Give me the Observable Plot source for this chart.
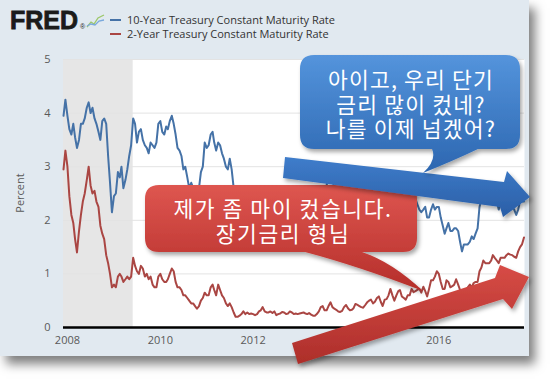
<!DOCTYPE html>
<html>
<head>
<meta charset="utf-8">
<script src="https://cdn.jsdelivr.net/npm/d3@7"></script>
<script src="https://cdn.jsdelivr.net/npm/@observablehq/plot@0.6"></script>
<style>
  html, body { margin: 0; padding: 0; background: #fff; }
  #wrap { position: relative; width: 560px; height: 379px; overflow: hidden; background: #fff; }
  #panel { position: absolute; left: 0; top: 0; width: 529px; height: 356px; background: #e1e9f0;
           box-shadow: 6px 8px 10px rgba(0,0,0,0.5); }
</style>
</head>
<body>
<div id="wrap"><div id="panel"></div></div>
<script>
// ---- data (semi-monthly readings: 1st and 16th of each month, Dec 2007 – Nov 2017) ----
const startMonth = "2007-12-01";
const tenYear = [
  3.95,4.25,
  3.95,3.70, 3.60,3.80, 3.55,3.35, 3.50,3.80, 3.80,3.90, 4.10,4.20, 4.00,4.10, 3.90,3.80, 3.65,3.50, 3.85,3.90, 3.80,3.20, 2.70,2.15,
  2.45,2.50, 2.90,2.80, 3.00,2.60, 2.75,2.95, 3.20,3.40, 3.90,3.80, 3.45,3.65, 3.70,3.50, 3.40,3.35, 3.25,3.45, 3.40,3.35, 3.45,3.80,
  3.85,3.65, 3.60,3.75, 3.70,3.85, 3.95,3.80, 3.60,3.35, 3.30,3.20, 2.95,3.00, 2.80,2.60, 2.70,2.60, 2.50,2.45, 2.60,2.90, 3.00,3.45,
  3.35,3.40, 3.60,3.65, 3.45,3.30, 3.45,3.40, 3.25,3.15, 3.00,2.95, 3.15,2.95, 2.60,2.20, 2.00,1.90, 1.80,2.20, 2.05,2.00, 2.00,1.90,
  1.95,1.95, 1.95,2.00, 2.05,2.30, 2.15,1.95, 1.90,1.75, 1.55,1.65, 1.55,1.45, 1.60,1.80, 1.65,1.85, 1.70,1.80, 1.70,1.60, 1.65,1.75,
  1.90,1.85, 2.00,1.95, 1.95,2.00, 1.80,1.70, 1.70,1.95, 2.15,2.45, 2.55,2.55, 2.65,2.85, 2.95,2.75, 2.60,2.60, 2.60,2.75, 2.80,2.95,
  2.95,2.80, 2.70,2.75, 2.70,2.75, 2.75,2.65, 2.60,2.50, 2.60,2.60, 2.60,2.50, 2.45,2.35, 2.45,2.60, 2.40,2.15, 2.35,2.30, 2.25,2.15,
  2.05,1.80, 1.75,2.10, 2.05,2.05, 1.90,1.90, 2.10,2.25, 2.35,2.35, 2.40,2.30, 2.20,2.15, 2.20,2.25, 2.05,2.05, 2.20,2.30, 2.20,2.25,
  2.25,2.05, 1.90,1.75, 1.85,1.95, 1.80,1.80, 1.85,1.85, 1.80,1.60, 1.42,1.55, 1.55,1.55, 1.60,1.70, 1.65,1.75, 1.85,2.25, 2.40,2.55,
  2.45,2.40, 2.45,2.45, 2.50,2.55, 2.35,2.20, 2.30,2.25, 2.20,2.15, 2.30,2.30, 2.25,2.20, 2.10,2.20, 2.35,2.35, 2.35
];
const twoYear = [
  2.95,3.30,
  3.00,2.45, 2.10,1.95, 1.65,1.40, 1.80,2.10, 2.35,2.50, 2.75,3.00, 2.65,2.50, 2.55,2.35, 2.25,1.90, 1.75,1.65, 1.35,1.20, 1.00,0.75,
  0.80,0.75, 0.95,1.00, 0.95,0.85, 0.90,0.95, 0.90,0.95, 1.30,1.15, 1.05,1.00, 1.15,1.10, 0.95,1.00, 0.90,0.95, 0.80,0.75, 0.75,0.95,
  1.00,0.90, 0.85,0.85, 0.90,1.00, 1.10,1.05, 0.85,0.75, 0.75,0.70, 0.60,0.60, 0.55,0.50, 0.45,0.45, 0.40,0.35, 0.40,0.50, 0.55,0.65,
  0.60,0.60, 0.75,0.80, 0.70,0.60, 0.80,0.70, 0.60,0.55, 0.45,0.40, 0.45,0.38, 0.28,0.20, 0.20,0.22, 0.25,0.30, 0.25,0.28, 0.25,0.26,
  0.25,0.23, 0.25,0.30, 0.32,0.38, 0.30,0.28, 0.28,0.30, 0.27,0.30, 0.23,0.25, 0.26,0.29, 0.28,0.25, 0.26,0.30, 0.28,0.25, 0.26,0.25,
  0.26,0.27, 0.28,0.26, 0.25,0.27, 0.24,0.22, 0.22,0.25, 0.30,0.38, 0.40,0.32, 0.32,0.40, 0.47,0.38, 0.35,0.33, 0.30,0.29, 0.31,0.38,
  0.42,0.36, 0.32,0.33, 0.36,0.44, 0.42,0.40, 0.38,0.37, 0.42,0.47, 0.50,0.52, 0.45,0.48, 0.55,0.58, 0.48,0.40, 0.52,0.53, 0.60,0.72,
  0.60,0.50, 0.60,0.68, 0.70,0.58, 0.55,0.52, 0.60,0.60, 0.72,0.66, 0.68,0.70, 0.72,0.65, 0.76,0.68, 0.58,0.72, 0.88,0.88, 0.95,1.05,
  1.00,0.85, 0.72,0.72, 0.88,0.85, 0.75,0.77, 0.80,0.90, 0.80,0.70, 0.58,0.70, 0.70,0.75, 0.80,0.75, 0.83,0.85, 0.85,1.05, 1.12,1.25,
  1.20,1.20, 1.20,1.25, 1.35,1.30, 1.25,1.20, 1.30,1.30, 1.30,1.35, 1.38,1.36, 1.35,1.32, 1.30,1.42, 1.50,1.55, 1.68
];
const recessions = [{start: "2007-12-01", end: "2009-06-01"}];
const xTickYears = ["2008", "2010", "2012", "2014", "2016"];
const yTicks = [0, 1, 2, 3, 4, 5];
const yLabel = "Percent";
const seriesNames = ["10-Year Treasury Constant Maturity Rate", "2-Year Treasury Constant Maturity Rate"];
const seriesColors = ["#4572a7", "#aa4643"];
const blueNote = ["아이고, 우리 단기", "금리 많이 컸네?", "나를 이제 넘겠어?"];
const redNote = ["제가 좀 마이 컸습니다.", "장기금리 형님"];

// ---- build tables ----
const start = new Date(startMonth);
function dateAt(i) {
  const m = d3.utcMonth.offset(start, Math.floor(i / 2));
  return i % 2 ? d3.utcDay.offset(m, 15) : m;
}
const ten = tenYear.map((v, i) => ({date: dateAt(i), value: v}));
const two = twoYear.map((v, i) => ({date: dateAt(i), value: v}));
const rec = recessions.map(d => ({start: new Date(d.start), end: new Date(d.end)}));

const svg = Plot.plot({
  width: 560,
  height: 379,
  marginLeft: 63,
  marginRight: 36,
  marginTop: 59,
  marginBottom: 52,
  style: {background: "transparent", overflow: "visible", position: "absolute", left: "0px", top: "0px",
          fontFamily: "'Open Sans', sans-serif", fontSize: "11px", color: "#595959"},
  x: {type: "utc", domain: [new Date("2007-12-01"), new Date("2017-11-05")],
      ticks: xTickYears.map(y => new Date(y + "-01-01")), tickFormat: d3.utcFormat("%Y"),
      tickSize: 0, tickPadding: 9, label: null},
  y: {domain: [0, 5], ticks: yTicks, tickFormat: d3.format("d"), tickSize: 0, tickPadding: 13, label: null},
  marks: [
    Plot.frame({fill: "white"}),
    Plot.rect(rec, {x1: "start", x2: "end", fill: "#e6e6e6"}),
    Plot.ruleY(yTicks.filter(d => d > 0), {stroke: "#e3e3e3", strokeWidth: 1}),
    Plot.line(ten, {x: "date", y: "value", stroke: seriesColors[0], strokeWidth: 2}),
    Plot.line(two, {x: "date", y: "value", stroke: seriesColors[1], strokeWidth: 2}),
    Plot.ruleY([0], {stroke: "#000", strokeWidth: 2.5})
  ]
});
document.getElementById("wrap").appendChild(svg);

// ---- header + annotations overlay ----
const ov = d3.select(svg).append("g").attr("text-anchor", "start");
const defs = ov.append("defs");
function grad(id, c1, c2) {
  const g = defs.append("linearGradient").attr("id", id).attr("x1", 0).attr("y1", 0).attr("x2", 0).attr("y2", 1);
  g.append("stop").attr("offset", "0%").attr("stop-color", c1);
  g.append("stop").attr("offset", "100%").attr("stop-color", c2);
}
grad("gBlueBox", "#5494dc", "#2c66b0");
grad("gRedBox", "#de5650", "#b52e2a");
grad("gBlueArr", "#3f7dcb", "#2a5ea6");
grad("gRedArr", "#d74c46", "#ad2e2a");
const flt = defs.append("filter").attr("id", "shd").attr("x", "-10%").attr("y", "-10%").attr("width", "130%").attr("height", "140%");
flt.append("feDropShadow").attr("dx", 2).attr("dy", 3).attr("stdDeviation", 2).attr("flood-color", "#000").attr("flood-opacity", 0.35);

// y axis title
ov.append("text").attr("transform", "translate(24,193) rotate(-90)").attr("text-anchor", "middle")
  .attr("font-family", "'Open Sans', sans-serif").attr("font-size", 11).attr("fill", "#595959").text(yLabel);

// header
const hdr = ov.append("g").attr("text-anchor", "start");
hdr.append("text").attr("x", 10).attr("y", 28.5).attr("font-family", "'Liberation Sans', Arial, sans-serif")
  .attr("font-weight", "bold").attr("font-size", 25).attr("fill", "#1b1b1b")
  .attr("stroke", "#1b1b1b").attr("stroke-width", 0.8).text("FRED");
hdr.append("text").attr("x", 80).attr("y", 28.5).attr("font-family", "'Liberation Sans', Arial, sans-serif")
  .attr("font-size", 7).attr("fill", "#1b1b1b").text("®");
hdr.append("polyline").attr("points", "87,27 91,22 94,24 98,18 104,15").attr("fill", "none").attr("stroke", "#9cc76a").attr("stroke-width", 1.3);
hdr.append("polyline").attr("points", "87,26 91,24 95,25 99,21 104,20").attr("fill", "none").attr("stroke", "#7aa9dc").attr("stroke-width", 1.3);
seriesNames.forEach((name, i) => {
  const cy = 20 + i * 14;
  hdr.append("line").attr("x1", 110).attr("x2", 121).attr("y1", cy).attr("y2", cy).attr("stroke", seriesColors[i]).attr("stroke-width", 2);
  hdr.append("text").attr("x", 127).attr("y", cy + 4).attr("font-family", "'Open Sans', sans-serif")
    .attr("font-size", 11).attr("fill", "#333").text(name);
});

function callout(x0, y0, x1, y1, r, ta, tb, tx, ty, c1x, c1y, c2x, c2y) {
  return `M${x0 + r},${y0}H${x1 - r}Q${x1},${y0} ${x1},${y0 + r}V${y1 - r}Q${x1},${y1} ${x1 - r},${y1}` +
         `H${tb}Q${c1x},${c1y} ${tx},${ty}Q${c2x},${c2y} ${ta},${y1}` +
         `H${x0 + r}Q${x0},${y1} ${x0},${y1 - r}V${y0 + r}Q${x0},${y0} ${x0 + r},${y0}Z`;
}
const kfont = "'Noto Sans CJK KR', sans-serif";

// red callout
ov.append("path").attr("d", callout(145, 185, 417, 252, 14, 305, 362, 423, 291, 392, 262, 358, 266))
  .attr("fill", "url(#gRedBox)").attr("filter", "url(#shd)");
redNote.forEach((t, i) => {
  ov.append("text").attr("x", 283).attr("y", 207 + i * 25).attr("text-anchor", "middle").attr("dominant-baseline", "central")
    .attr("font-family", kfont).attr("font-size", 21.5).attr("letter-spacing", "1.6px").attr("fill", "#fff").text(t);
});

// red arrow
ov.append("polygon").attr("points", "292,343 495,278 500,265 529,277 512,309 503,299 298,364")
  .attr("fill", "url(#gRedArr)").attr("filter", "url(#shd)");

// blue arrow
ov.append("polygon").attr("points", "285,157 504,182 507,171 530,197 503,217 500,207 283,178")
  .attr("fill", "url(#gBlueArr)").attr("filter", "url(#shd)");

// blue callout
ov.append("path").attr("d", callout(300, 55, 520, 149, 14, 432, 478, 423, 173, 455, 160, 437, 160))
  .attr("fill", "url(#gBlueBox)").attr("filter", "url(#shd)");
blueNote.forEach((t, i) => {
  ov.append("text").attr("x", 411).attr("y", 78.5 + i * 24.5).attr("text-anchor", "middle").attr("dominant-baseline", "central")
    .attr("font-family", kfont).attr("font-size", 21.5).attr("letter-spacing", "1.2px").attr("fill", "#fff").text(t);
});
</script>
</body>
</html>
